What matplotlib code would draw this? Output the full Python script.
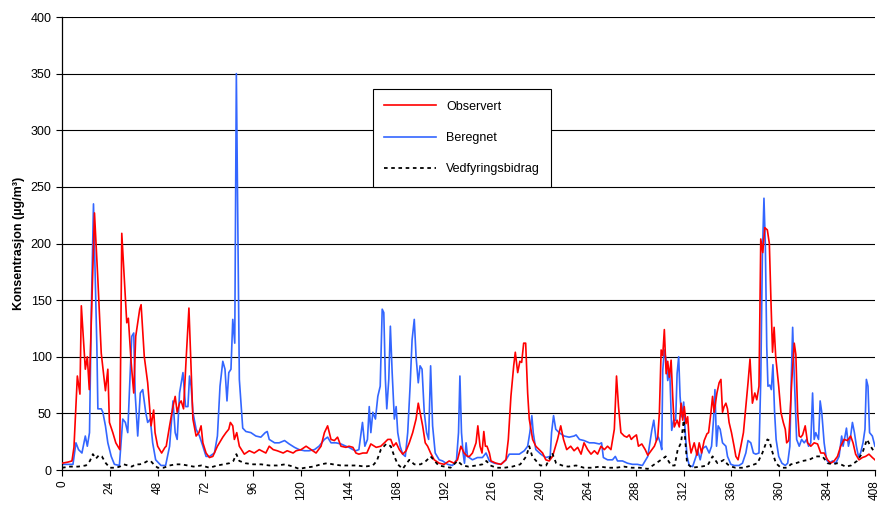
import matplotlib.pyplot as plt

# hourly concentrations, as (hour, value) breakpoints
observert = [
    (0, 6), (3, 7), (5, 8), (6, 20), (7.7, 83), (9, 67), (9.7, 145), (11.7, 89), (12.7, 100),
    (13.7, 71), (16.3, 227), (18, 168), (19.7, 103), (21.8, 70), (23, 89), (23.8, 42),
    (25.5, 33), (27, 24), (29, 18), (30, 209), (31.3, 168), (32.5, 130), (33.3, 134),
    (34.7, 95), (36, 68), (37, 118), (39, 142), (39.7, 146), (41.3, 100), (43, 77), (44.7, 39),
    (46, 53), (46.7, 33), (48, 21), (50, 15), (51.7, 20), (52.3, 21), (54, 39), (55.7, 56),
    (56.8, 65), (57.8, 51), (59, 59), (59.8, 61), (61, 54), (62.3, 98), (63.7, 143), (64.5, 104),
    (65.7, 45), (67.3, 30), (68.7, 33), (69.8, 39), (70.7, 24), (72.3, 15), (74, 11), (75.7, 12),
    (78, 21), (80.7, 29), (82.3, 33), (83.7, 36), (84.5, 42), (85.7, 39), (86.5, 27), (87.7, 33),
    (89, 21), (91.5, 14), (94, 17), (96.5, 15), (99, 18), (102.3, 15), (104, 21), (106, 18),
    (108, 17), (111, 15), (113, 17), (116, 15), (117.5, 17), (120, 18), (122.5, 21), (125, 18),
    (127.5, 15), (130, 21), (131.7, 33), (133.3, 39), (135, 27), (136.7, 26), (138.3, 29),
    (140, 21), (142.5, 20), (144, 21), (146, 20), (147.5, 15), (149, 14), (151, 15), (153, 15),
    (155, 23), (157.7, 20), (160, 21), (161.8, 24), (163.5, 27), (165, 27), (166.3, 21),
    (167.7, 24), (169.3, 18), (171, 14), (172.7, 17), (174.3, 24), (176, 33), (177.7, 45),
    (178.8, 59), (179.7, 51), (181, 39), (182.3, 24), (183.5, 21), (185, 15), (186.8, 9),
    (189.3, 6), (191.8, 5), (194.3, 8), (196.8, 6), (198.5, 9), (200.2, 21), (201.8, 15),
    (203.5, 12), (204.5, 12), (206, 15), (207.8, 24), (208.7, 39), (209.8, 21), (210.8, 15),
    (211.7, 34), (212.5, 21), (213.3, 21), (214.5, 15), (215.3, 8), (217.8, 6), (220.3, 5),
    (222.8, 9), (224, 27), (225.3, 65), (226.7, 92), (227.5, 104), (228.7, 86), (229.8, 96),
    (230.7, 95), (231.7, 112), (232.7, 112), (233.7, 68), (234.5, 45), (236.2, 27), (237.8, 21),
    (239.5, 18), (241.2, 15), (242.8, 9), (244.5, 8), (246.2, 12), (248.7, 27), (250.3, 39),
    (251.7, 27), (253.3, 18), (255.3, 21), (257, 17), (258.8, 20), (260.5, 14), (262, 24),
    (263.8, 18), (265.5, 14), (267.2, 17), (268.8, 14), (270.5, 21), (272.2, 18), (273.8, 21),
    (275.5, 18), (277.2, 36), (278.3, 83), (279.3, 56), (280.5, 33), (282.2, 30), (283.5, 29),
    (284.7, 31), (285.7, 27), (286.8, 29), (288.3, 31), (289.3, 21), (291, 23), (292.7, 18),
    (294, 13), (297.3, 21), (299, 29), (299.8, 50), (300.7, 106), (301.5, 101), (302.3, 124),
    (303.2, 85), (304, 96), (304.8, 82), (305.7, 97), (306.5, 65), (307.3, 38), (308.7, 44),
    (309.8, 38), (310.7, 59), (311.5, 44), (312.3, 56), (313.2, 41), (314, 47), (314.8, 26),
    (315.7, 15), (317.3, 24), (318.7, 13), (319.8, 24), (321, 15), (322.3, 26), (323.7, 32),
    (324.5, 33), (325.7, 51), (326.5, 65), (327.3, 51), (328.7, 68),
    (329.8, 77), (330.7, 80), (331.5, 51), (332.3, 56), (333.2, 59), (334, 54), (334.8, 42),
    (336, 33), (337.3, 21), (338.2, 12), (339.3, 9), (340.7, 21), (342, 33), (343.2, 56),
    (344.3, 77), (345.3, 98), (346.5, 59), (347.7, 68), (348.7, 62), (349.8, 74), (350.7, 204),
    (351.7, 192), (352.7, 214), (354, 212), (355, 200), (355.8, 150), (356.6, 104),
    (357.4, 126), (358.2, 100), (359.7, 74), (360.8, 51), (362, 42), (363, 36), (363.7, 24),
    (364.7, 26), (365.3, 45), (366.3, 80), (367.5, 112), (368.3, 102), (369.2, 51), (370, 30),
    (370.8, 29), (371.7, 31), (373, 39), (374.2, 24), (375.8, 21), (377.5, 24), (379.2, 23),
    (380.8, 15), (382.5, 15), (384.2, 9), (385.8, 6), (387.5, 8), (389.2, 12), (390.8, 21),
    (392.5, 27), (394.2, 26), (395.8, 30), (397, 24), (398.3, 14), (400, 9), (401.7, 11),
    (403.3, 12), (405, 14), (406.7, 11), (408, 9),
]

beregnet = [
    (0, 5), (3, 5), (5.5, 5), (7, 24), (8.3, 18), (10, 15), (11.7, 30), (12.7, 21), (13.8, 33),
    (14.7, 139), (15.8, 235), (16.7, 168), (17.5, 109), (18, 54), (19.7, 54), (20.5, 51),
    (21.8, 39), (23, 24), (24.7, 12), (26.3, 5), (28.8, 4), (30.5, 45), (31.8, 42), (33, 33),
    (33.8, 68), (35, 118), (36, 121), (36.7, 68), (38, 30), (39.3, 68), (40.5, 71), (42, 51),
    (43, 42), (44.3, 45), (45.5, 24), (47, 9), (49.7, 4), (52, 4), (54, 21), (55.7, 61),
    (56.8, 33), (57.8, 27), (59, 68), (60.7, 86), (62, 56), (63.2, 56), (64, 83), (64.8, 74),
    (65.7, 51), (67.3, 36), (69, 30), (70.7, 21), (72.3, 12), (74, 12), (76.5, 15), (78, 30),
    (79.3, 74), (80.7, 96), (81.8, 89), (82.8, 61), (83.7, 86), (84.8, 89), (85.7, 133),
    (86.7, 112), (87.5, 350), (89, 80), (90.7, 37), (92.3, 34), (94.8, 33), (97.3, 30),
    (99.8, 29), (102, 33), (103, 34), (104, 27), (106.7, 24), (109, 24), (111.7, 26), (114, 23),
    (116.7, 20), (119, 18), (121.7, 17), (124, 17), (126.7, 18), (129, 21), (131.7, 27),
    (133.3, 29), (135, 24), (137.5, 24), (140, 23), (142.5, 21), (144, 20), (146, 18),
    (147.5, 17), (149, 18), (150.8, 42), (152, 21), (153.3, 27), (154.2, 56), (155, 33),
    (156, 51), (157.3, 45), (158.5, 65), (159.7, 74), (160.7, 142), (161.5, 139), (162.3, 80),
    (163, 54), (164, 80), (164.8, 127), (165.7, 86), (166.8, 45), (167.7, 56), (168.5, 33),
    (169.7, 21), (171, 14), (172.3, 12), (173.5, 33), (174.7, 74), (175.7, 115), (176.8, 133),
    (177.7, 100), (178.8, 77), (179.7, 92), (180.7, 89), (181.8, 51), (183, 33), (184, 27),
    (185, 92), (186, 39), (187.3, 15), (189.3, 9), (191, 8), (193.5, 5), (196, 4), (198, 9),
    (199, 33), (199.7, 83), (200.5, 33), (201.3, 15), (202, 6), (202.8, 24), (203.5, 12),
    (206, 9), (208.5, 11), (211, 11), (212.8, 15), (214.5, 8), (217, 6), (220.3, 5), (222.8, 9),
    (224.5, 14), (227, 14), (229.5, 14), (232, 17), (233.7, 21), (234.8, 33), (235.8, 48),
    (236.5, 33), (237.8, 18), (240.3, 14), (242.8, 11), (245, 12), (245.7, 33), (246.7, 48),
    (247.8, 36), (249.5, 33), (252, 30), (254.5, 29), (257, 30), (258, 31), (259.7, 27),
    (262, 26), (264.7, 24), (267, 24), (269.7, 23), (270.8, 24), (271.7, 11), (273.8, 9),
    (276.3, 9), (277.7, 12), (278.8, 8), (281.3, 8), (283.8, 6), (286.3, 5), (288.8, 5),
    (291.3, 4), (294, 12), (296, 35), (297, 44), (298.2, 26), (299.3, 29), (300.3, 24),
    (301, 18), (301.5, 88), (302.3, 106), (303.2, 97), (304, 79), (305, 88), (306, 35),
    (307, 44), (308, 44), (308.7, 85), (309.5, 100), (310.2, 65), (311, 47), (312, 60),
    (312.7, 35), (313.7, 12), (314.8, 4), (316.5, 3), (318.2, 12), (319, 18), (320.3, 9),
    (321.5, 19), (323.2, 21), (324.8, 15), (326, 21), (327, 45),
    (327.7, 71), (328.5, 21), (329.3, 39), (330.3, 36), (331.5, 24), (333.2, 21), (334, 12),
    (335.7, 5), (337.3, 4), (339.8, 4), (341.5, 6), (343.2, 15), (344.3, 26), (345.7, 24),
    (347, 15), (348.2, 14), (349.8, 15), (350.7, 80), (351.5, 189), (352.3, 240), (353, 198),
    (353.7, 109), (354.3, 74), (355.2, 75), (356, 71), (356.8, 93), (357.6, 52), (358.4, 27),
    (359.7, 12), (361.3, 6), (363, 4), (364.2, 6), (365.3, 21), (366, 80), (366.7, 126),
    (367.5, 83), (368.7, 27), (370, 21), (371.2, 27), (372.5, 24), (373.7, 27), (374.7, 21),
    (375.8, 24), (376.7, 68), (377.5, 27), (378.3, 33), (379.7, 27), (380.5, 61), (381.3, 51),
    (382.5, 24), (383.7, 9), (385, 6), (386.7, 8), (388.3, 6), (390, 12), (391.3, 30), (392, 21),
    (393, 30), (393.7, 37), (394.7, 21), (395.8, 30), (396.7, 42), (397.7, 33), (398.7, 21),
    (399.7, 12), (400.8, 15), (402, 24), (403, 36), (403.7, 80), (404.5, 74), (405.3, 33),
    (406.7, 30), (408, 21),
]

vedfyring = [
    (0, 2), (4, 3), (8, 3), (12, 4), (14, 8), (15.5, 14), (17, 10), (18.5, 13), (20, 12),
    (22, 6), (24, 2), (27, 2), (29, 3), (31, 5), (33, 4), (35, 3), (37, 5), (39, 5), (41, 6),
    (43, 8), (44.5, 8), (46, 5), (48, 2), (51, 2), (54, 4), (57, 5), (60, 5), (63, 4), (66, 3),
    (70, 4), (74, 2), (78, 4), (81, 5), (84, 6), (86, 8), (87.5, 14), (89, 8), (92, 6), (96, 5),
    (100, 5), (104, 4), (108, 4), (112, 5), (116, 3), (119, 1), (122, 2), (126, 3), (130, 5),
    (133, 6), (136, 5), (140, 4), (144, 4), (148, 4), (152, 3), (156, 4), (158, 8), (160, 18),
    (162.7, 23), (165, 21), (166.8, 12), (168.5, 5), (171, 1), (174.3, 9), (176.8, 5),
    (180, 5), (182.7, 8), (185, 12), (187, 8), (189, 4), (192, 3), (195, 2), (198.5, 8),
    (201, 4), (204, 3), (208, 4), (211, 5), (213, 8), (215, 4), (218, 2), (222, 2), (226, 3),
    (230, 5), (233, 12), (234.5, 21), (236, 12), (238, 8), (240, 4), (243, 4), (246, 15),
    (248, 6), (251, 4), (254, 3), (258, 4), (262, 2), (266, 2), (270, 3), (274, 2), (278, 2),
    (282, 3), (286, 2), (290, 2), (294, 1), (299, 7), (301.5, 10), (303, 12), (305.7, 4),
    (307.5, 4), (309, 18), (310.7, 24), (312, 44), (312.8, 26), (313.7, 6), (316, 2),
    (320.7, 3), (324, 4), (326.5, 12), (329, 6), (332.3, 9), (334, 5), (336, 3),
    (338, 2), (342, 2), (346, 4), (349, 6), (351.5, 15), (354, 27), (355, 26), (356.5, 16),
    (358.3, 6), (360.8, 2), (364, 2), (365.8, 5), (368.3, 6), (371.7, 8), (375, 9),
    (378.3, 12), (381.7, 12), (384.2, 6), (387, 5), (389, 6), (390.8, 5), (393.3, 3), (396, 4),
    (399, 8), (401.7, 15), (404, 27), (405.8, 21), (408, 15),
]

x_ticks = list(range(0, 409, 24))
y_ticks = list(range(0, 401, 50))

plt.rcParams['font.family'] = ['Liberation Sans', 'DejaVu Sans']

fig = plt.figure(figsize=(8.82, 5.05), dpi=100)
ax = fig.add_axes([0.0703, 0.0693, 0.9217, 0.897])

for y in y_ticks[1:]:
    ax.axhline(y, color='black', lw=0.8, zorder=1)

hx, hy = zip(*observert)
ax.plot(hx, hy, color='#FF0000', lw=1.2, label='Observert', zorder=3)
hx, hy = zip(*beregnet)
ax.plot(hx, hy, color='#3366FF', lw=1.2, label='Beregnet', zorder=2)
hx, hy = zip(*vedfyring)
ax.plot(hx, hy, color='black', lw=1.3, ls=(0, (2, 2)), label='Vedfyringsbidrag', zorder=4)

ax.set_xlim(0, 408)
ax.set_ylim(0, 400)
ax.set_xticks(x_ticks)
ax.set_xticklabels([str(t) for t in x_ticks], rotation=90, fontsize=8.5)
ax.set_yticks(y_ticks)
ax.set_yticklabels([str(t) for t in y_ticks], fontsize=9)
ax.tick_params(direction='out', length=4, width=0.8)
for side in ['top', 'right']:
    ax.spines[side].set_visible(False)
ax.spines['left'].set_linewidth(0.9)
ax.spines['bottom'].set_linewidth(0.9)

ax.set_ylabel('Konsentrasjon (µg/m³)', fontsize=9, fontweight='bold')

leg = ax.legend(loc='upper left', bbox_to_anchor=(0.382, 0.84), fontsize=9,
                fancybox=False, edgecolor='black', framealpha=1, labelspacing=1.55,
                handlelength=4.2, borderpad=0.9, borderaxespad=0)
leg.get_frame().set_linewidth(0.8)
leg.set_zorder(10)

plt.savefig('out.png', dpi=100)
